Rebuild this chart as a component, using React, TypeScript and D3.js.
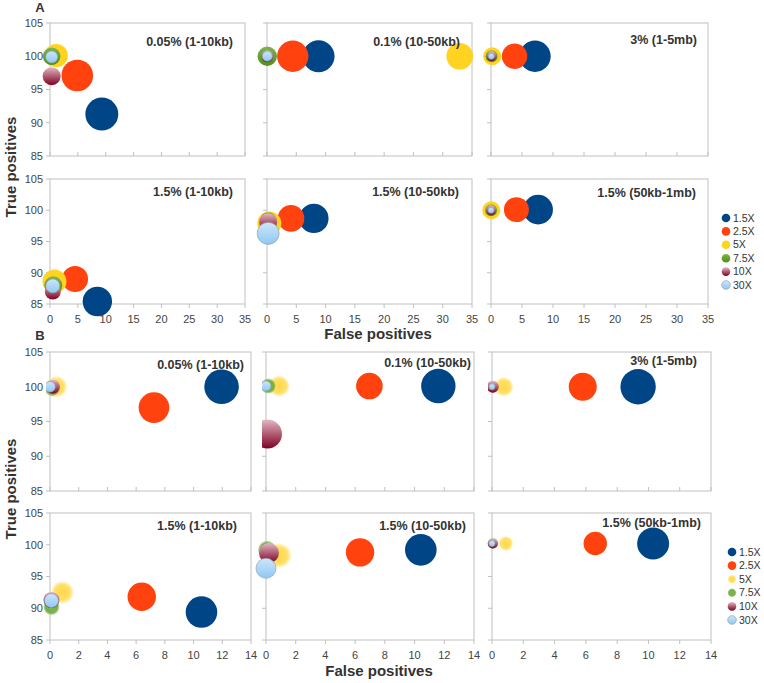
import React from "react";
import * as d3 from "d3";

// ---------- data ----------
const seriesNames = ["1.5X", "2.5X", "5X", "7.5X", "10X", "30X"];
const seriesColors = ["#004586", "#ff420e", "#ffd320", "#579d1c", "#7e0021", "#83caff"];
const panelTitles = [
  "0.05% (1-10kb)",
  "0.1% (10-50kb)",
  "3% (1-5mb)",
  "1.5% (1-10kb)",
  "1.5% (10-50kb)",
  "1.5% (50kb-1mb)",
];
const yTicks = [85, 90, 95, 100, 105];
const xTicksA = [0, 5, 10, 15, 20, 25, 30, 35];
const xTicksB = [0, 2, 4, 6, 8, 10, 12, 14];

// false positives per panel (series order as seriesNames)
const fpA = [
  [9.3, 4.9, 1.1, 0.3, 0.3, 0.3],
  [8.8, 4.4, 32.9, 0.05, 0.05, 0.05],
  [7.1, 3.8, 0.2, 0.1, 0.1, 0.05],
  [8.5, 4.5, 0.8, 0.6, 0.5, 0.5],
  [8.0, 4.1, 0.4, 0.2, 0.2, 0.2],
  [7.6, 4.1, 0.05, 0.02, 0.02, 0],
];
const tpA = [
  [91.3, 97.1, 100.1, 100, 97.0, 99.9],
  [100, 100, 100, 100, 100, 100],
  [100, 100, 100, 100, 100, 100],
  [85.4, 89.0, 88.6, 88.0, 87.0, 87.9],
  [98.7, 98.7, 97.9, 98.4, 98.1, 96.3],
  [100.1, 100.1, 100, 100, 100, 100],
];
const sizeA = [
  [272, 250, 137, 76, 81, 36],
  [256, 246, 177, 94, 36, 25],
  [246, 161, 81, 36, 25, 9],
  [216, 169, 144, 81, 64, 49],
  [216, 177, 144, 64, 81, 121],
  [219, 156, 81, 36, 25, 9],
];
const fpB = [
  [11.95, 7.24, 0.45, 0.15, 0.2, 0],
  [11.6, 6.96, 0.88, 0.15, 0.1, 0],
  [9.34, 5.8, 0.75, 0.05, 0.05, 0],
  [10.55, 6.39, 0.86, 0.1, 0.1, 0.1],
  [10.42, 6.33, 0.88, 0.07, 0.2, 0],
  [10.3, 6.6, 0.88, 0.06, 0.05, 0],
];
const tpB = [
  [100, 97.0, 100, 99.8, 100, 100],
  [100.1, 100.1, 100.1, 100.1, 93.2, 100.1],
  [100, 100, 100, 100, 100, 100],
  [89.4, 91.8, 92.5, 90.2, 91.3, 91.2],
  [99.2, 98.8, 98.3, 99.2, 98.7, 96.3],
  [100.2, 100.2, 100.2, 100.2, 100.2, 100.2],
];
const sizeB = [
  [299, 234, 110, 64, 49, 28],
  [296, 177, 106, 56, 210, 25],
  [313, 196, 90, 36, 36, 9],
  [250, 202, 121, 64, 64, 49],
  [250, 202, 144, 81, 100, 100],
  [256, 137, 53, 30, 25, 9],
];

// ---------- layout ----------
const W = 764;
const H = 683;
const FONT = "'Liberation Sans', Arial, sans-serif";
const colsA = [[50, 245], [267, 472], [491, 708]];
const rowsA = [[23, 156], [179, 304]];
const colsB = [[50, 251], [266, 474], [492, 711]];
const rowsB = [[352, 491], [513, 640]];
const titlePadA = [12, 12, 11, 12, 13, 12];
const titleDyA = [22.5, 22.5, 21, 16.5, 17, 18];
const titlePadB = [7, 3, 14, 14, 8, 10];
const titleDyB = [16.5, 14.5, 13, 16.5, 17, 14];

const color = d3.scaleOrdinal<string, string>().domain(seriesNames).range(seriesColors);
const rScale = d3.scaleSqrt().domain([0, 100]).range([0, 10]);

function fillFor(i: number, fig: string) {
  if (i === 3) return fig === "B" ? "url(#g75s)" : "url(#g75)";
  if (i === 4) return "url(#g10)";
  if (i === 5) return "url(#g30)";
  if (i === 2 && fig === "B") return "url(#g5s)";
  return color(seriesNames[i]);
}

type PanelProps = {
  fig: string;
  idx: number;
  xr: number[];
  yr: number[];
  xTicks: number[];
  xMax: number;
  fp: number[];
  tp: number[];
  sz: number[];
  showY: boolean;
  showX: boolean;
  pad: number;
  dy: number;
  clip: number | null;
};

function Panel(p: PanelProps) {
  const x = d3.scaleLinear().domain([0, p.xMax]).range(p.xr);
  const y = d3.scaleLinear().domain([85, 105]).range([p.yr[1], p.yr[0]]);
  const clipId = `clip-${p.fig}-${p.idx}`;
  const left = p.xr[0];
  const top = p.yr[0];
  const w = p.xr[1] - p.xr[0];
  const h = p.yr[1] - p.yr[0];
  return (
    <g>
      {p.clip !== null && (
        <defs>
          <clipPath id={clipId}>
            <rect x={left - p.clip} y={top - 30} width={w + p.clip + 30} height={h + 60} />
          </clipPath>
        </defs>
      )}
      <rect x={left} y={top} width={w} height={h} fill="#fff" stroke="#c0c0c0" strokeWidth={1} />
      {yTicks.map((t) => (
        <line key={"yt" + t} x1={left - 4} x2={left} y1={y(t)} y2={y(t)} stroke="#c0c0c0" />
      ))}
      {p.xTicks.map((t) => (
        <line
          key={"xt" + t}
          x1={x(t)}
          x2={x(t)}
          y1={p.yr[1]}
          y2={p.showX ? p.yr[1] + 4 : p.yr[1] - 4}
          stroke="#c0c0c0"
        />
      ))}
      {p.showY &&
        yTicks.map((t) => (
          <text
            key={"yl" + t}
            x={left - 7}
            y={y(t)}
            dy="0.35em"
            textAnchor="end"
            fontSize={11}
            fill="#444"
            fontFamily={FONT}
          >
            {t}
          </text>
        ))}
      {p.showX &&
        p.xTicks.map((t) => (
          <text
            key={"xl" + t}
            x={x(t)}
            y={p.yr[1] + 19}
            textAnchor="middle"
            fontSize={11}
            fill="#444"
            fontFamily={FONT}
          >
            {t}
          </text>
        ))}
      <g clipPath={p.clip !== null ? `url(#${clipId})` : undefined}>
        {seriesNames.map((s, i) => (
          <circle
            key={s}
            cx={x(p.fp[i])}
            cy={y(p.tp[i])}
            r={rScale(p.sz[i])}
            fill={fillFor(i, p.fig)}
            stroke={i === 5 ? "#8fa3b5" : "none"}
            strokeWidth={i === 5 ? 0.7 : 0}
          />
        ))}
      </g>
      <text
        x={p.xr[1] - p.pad}
        y={top + p.dy}
        textAnchor="end"
        fontSize={12.5}
        fontWeight="bold"
        fill="#333"
        fontFamily={FONT}
      >
        {panelTitles[p.idx]}
      </text>
    </g>
  );
}

function Legend({ x, y0, step, fig }: { x: number; y0: number; step: number; fig: string }) {
  return (
    <g>
      {seriesNames.map((s, i) => (
        <g key={s}>
          <circle
            cx={x}
            cy={y0 + i * step}
            r={4.3}
            fill={fillFor(i, fig)}
            stroke={i === 5 ? "#8fa3b5" : "none"}
            strokeWidth={i === 5 ? 0.7 : 0}
          />
          <text x={x + 7} y={y0 + i * step} dy="0.35em" fontSize={10.5} fill="#333" fontFamily={FONT}>
            {s}
          </text>
        </g>
      ))}
    </g>
  );
}

export default function App() {
  const figA = [0, 1, 2, 3, 4, 5].map((k) => {
    const r = Math.floor(k / 3);
    const c = k % 3;
    return (
      <Panel
        key={"A" + k}
        fig="A"
        idx={k}
        xr={colsA[c]}
        yr={rowsA[r]}
        xTicks={xTicksA}
        xMax={35}
        fp={fpA[k]}
        tp={tpA[k]}
        sz={sizeA[k]}
        showY={c === 0}
        showX={r === 1}
        pad={titlePadA[k]}
        dy={titleDyA[k]}
        clip={null}
      />
    );
  });
  const figB = [0, 1, 2, 3, 4, 5].map((k) => {
    const r = Math.floor(k / 3);
    const c = k % 3;
    return (
      <Panel
        key={"B" + k}
        fig="B"
        idx={k}
        xr={colsB[c]}
        yr={rowsB[r]}
        xTicks={xTicksB}
        xMax={14}
        fp={fpB[k]}
        tp={tpB[k]}
        sz={sizeB[k]}
        showY={c === 0}
        showX={r === 1}
        pad={titlePadB[k]}
        dy={titleDyB[k]}
        clip={r === 0 ? 4 : null}
      />
    );
  });
  return (
    <svg
      width={W}
      height={H}
      style={{ position: "absolute", left: 0, top: 0, background: "#fff" }}
      fontFamily={FONT}
    >
      <defs>
        <linearGradient id="g10" x1="0" y1="0" x2="0" y2="1">
          <stop offset="0%" stopColor="#e2b8c4" />
          <stop offset="100%" stopColor="#7e0021" />
        </linearGradient>
        <linearGradient id="g75" x1="0" y1="0" x2="0" y2="1">
          <stop offset="0%" stopColor="#7fb34f" />
          <stop offset="100%" stopColor="#4f8f19" />
        </linearGradient>
        <radialGradient id="g75s">
          <stop offset="0%" stopColor="#7fb34f" />
          <stop offset="75%" stopColor="#6aa83a" stopOpacity={0.9} />
          <stop offset="100%" stopColor="#8fc06a" stopOpacity={0.45} />
        </radialGradient>
        <linearGradient id="g30" x1="0" y1="0" x2="0" y2="1">
          <stop offset="0%" stopColor="#cfe6f8" />
          <stop offset="100%" stopColor="#8ec8f5" />
        </linearGradient>
        <radialGradient id="g5s">
          <stop offset="0%" stopColor="#ffd84a" />
          <stop offset="70%" stopColor="#ffdc55" stopOpacity={0.9} />
          <stop offset="100%" stopColor="#ffe680" stopOpacity={0.35} />
        </radialGradient>
      </defs>
      <rect x={0} y={0} width={W} height={H} fill="#fff" />
      <text x={40} y={12} textAnchor="middle" fontSize={13} fontWeight="bold" fill="#333">
        A
      </text>
      <text x={40} y={340} textAnchor="middle" fontSize={13} fontWeight="bold" fill="#333">
        B
      </text>
      {figA}
      {figB}
      <text
        transform="translate(16,167) rotate(-90)"
        textAnchor="middle"
        fontSize={15}
        fontWeight="bold"
        fill="#333"
      >
        True positives
      </text>
      <text
        transform="translate(16,489) rotate(-90)"
        textAnchor="middle"
        fontSize={15}
        fontWeight="bold"
        fill="#333"
      >
        True positives
      </text>
      <text x={378} y={339} textAnchor="middle" fontSize={15} fontWeight="bold" fill="#333">
        False positives
      </text>
      <text x={379} y={676} textAnchor="middle" fontSize={15} fontWeight="bold" fill="#333">
        False positives
      </text>
      <Legend x={726} y0={218} step={13.4} fig="A" />
      <Legend x={732} y0={552} step={13.6} fig="B" />
    </svg>
  );
}
